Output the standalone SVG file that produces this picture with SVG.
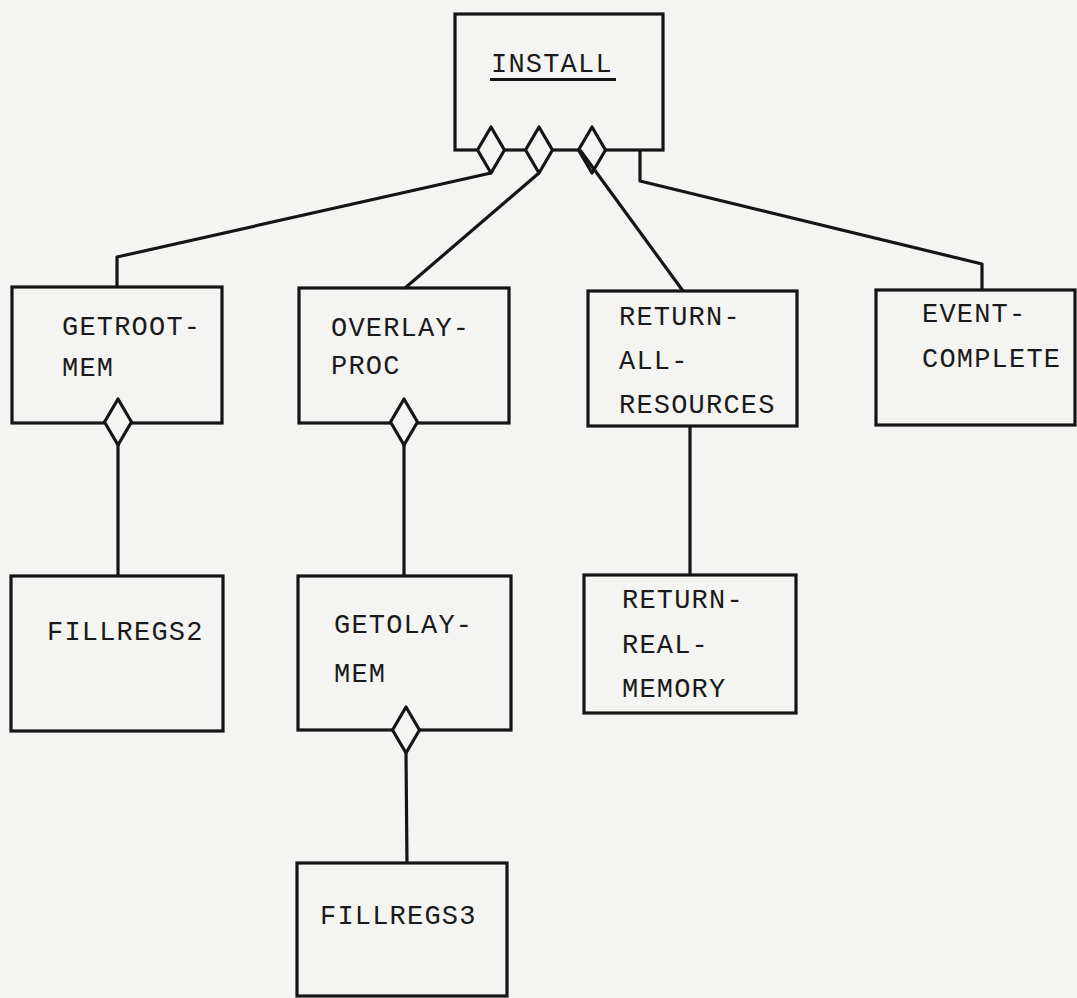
<svg xmlns="http://www.w3.org/2000/svg" width="1077" height="998" viewBox="0 0 1077 998">
  <style>
    .box { fill: none; stroke: #151515; stroke-width: 3.2; }
    .dia { fill: #f4f4f2; stroke: #151515; stroke-width: 3.2; stroke-linejoin: round; }
    .lbl { font-family: "Liberation Mono", "DejaVu Sans Mono", monospace; font-size: 27px; letter-spacing: 1.2px; fill: #1a1a1a; }
    .wire { fill: none; stroke: #151515; stroke-width: 3.2; stroke-linejoin: round; }
  </style>
  <defs>
    <!-- aggregation diamond, centred on the parent box's bottom edge -->
    <polygon id="diamond" points="0,-23 13.5,0 0,23 -13.5,0"/>
  </defs>
  <rect width="1077" height="998" fill="#f4f4f2"/>

  <g id="install">
    <rect class="box" x="455" y="14" width="208" height="136"/>
    <text class="lbl" x="491" y="72">INSTALL</text>
    <line x1="490" y1="79.5" x2="616" y2="79.5" stroke="#151515" stroke-width="3"/>
    <use href="#diamond" class="dia" x="491" y="150"/>
    <use href="#diamond" class="dia" x="539" y="150"/>
    <use href="#diamond" class="dia" x="592" y="150"/>
  </g>

  <g id="getroot-mem">
    <rect class="box" x="12" y="287" width="210" height="136"/>
    <text class="lbl" x="62" y="335">GETROOT-</text>
    <text class="lbl" x="62" y="376">MEM</text>
    <use href="#diamond" class="dia" x="118" y="422"/>
  </g>

  <g id="overlay-proc">
    <rect class="box" x="299" y="288" width="210" height="135"/>
    <text class="lbl" x="331" y="336">OVERLAY-</text>
    <text class="lbl" x="331" y="374">PROC</text>
    <use href="#diamond" class="dia" x="404" y="422"/>
  </g>

  <g id="return-all-resources">
    <rect class="box" x="588" y="291" width="209" height="135"/>
    <text class="lbl" x="619" y="325">RETURN-</text>
    <text class="lbl" x="619" y="369">ALL-</text>
    <text class="lbl" x="619" y="413">RESOURCES</text>
  </g>

  <g id="event-complete">
    <rect class="box" x="876" y="290" width="199" height="135"/>
    <text class="lbl" x="922" y="322">EVENT-</text>
    <text class="lbl" x="922" y="367">COMPLETE</text>
  </g>

  <g id="fillregs2">
    <rect class="box" x="11" y="576" width="212" height="155"/>
    <text class="lbl" x="47" y="640">FILLREGS2</text>
  </g>

  <g id="getolay-mem">
    <rect class="box" x="298" y="576" width="213" height="154"/>
    <text class="lbl" x="334" y="633">GETOLAY-</text>
    <text class="lbl" x="334" y="682">MEM</text>
    <use href="#diamond" class="dia" x="406" y="730"/>
  </g>

  <g id="return-real-memory">
    <rect class="box" x="584" y="575" width="212" height="138"/>
    <text class="lbl" x="622" y="608">RETURN-</text>
    <text class="lbl" x="622" y="653">REAL-</text>
    <text class="lbl" x="622" y="697">MEMORY</text>
  </g>

  <g id="fillregs3">
    <rect class="box" x="297" y="863" width="210" height="133"/>
    <text class="lbl" x="320" y="924">FILLREGS3</text>
  </g>

  <g id="connectors">
    <polyline class="wire" points="491,173 117,257 117,287"/>
    <line class="wire" x1="539" y1="173" x2="405" y2="288"/>
    <line class="wire" x1="580" y1="150" x2="683" y2="291"/>
    <polyline class="wire" points="640,150 640,181 982,264 982,290"/>
    <line class="wire" x1="118" y1="445" x2="118" y2="576"/>
    <line class="wire" x1="404" y1="445" x2="404" y2="576"/>
    <line class="wire" x1="690" y1="426" x2="690" y2="575"/>
    <line class="wire" x1="406" y1="753" x2="407" y2="863"/>
  </g>
</svg>
